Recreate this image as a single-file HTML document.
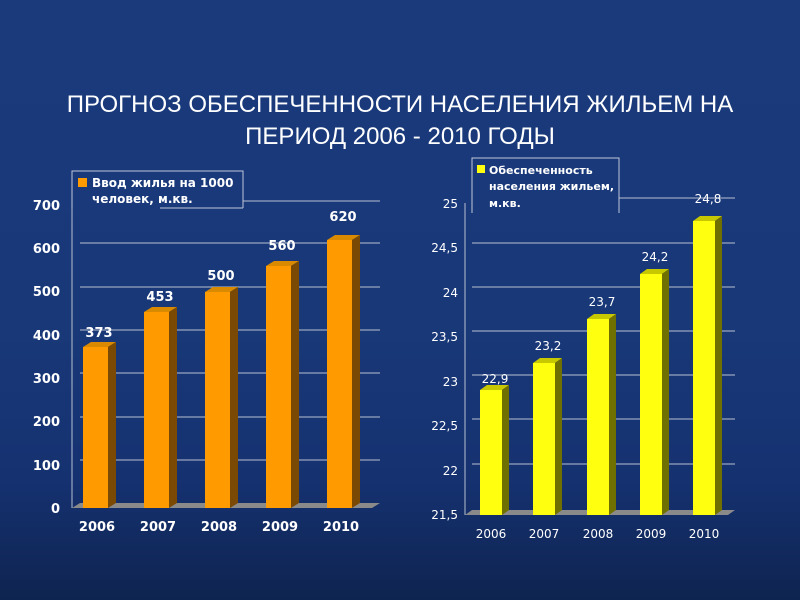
<!DOCTYPE html>
<html><head><meta charset="utf-8"><style>
body{margin:0;width:800px;height:600px;overflow:hidden;background:linear-gradient(180deg,#1a3a7c 0%,#193878 55%,#153170 80%,#0e2450 100%);font-family:"DejaVu Sans","Liberation Sans",sans-serif;}
</style></head><body>
<svg width="800" height="600" xmlns="http://www.w3.org/2000/svg" style="position:absolute;left:0;top:0">
<text x="400" y="112" fill="#fff" font-family="Liberation Sans, sans-serif" font-size="24" text-anchor="middle">ПРОГНОЗ ОБЕСПЕЧЕННОСТИ НАСЕЛЕНИЯ ЖИЛЬЕМ НА</text>
<text x="400" y="144" fill="#fff" font-family="Liberation Sans, sans-serif" font-size="24" text-anchor="middle">ПЕРИОД  2006 - 2010 ГОДЫ</text>

<!-- left chart -->
<g stroke="#b8c0d0" stroke-width="1" fill="none">
<line x1="72" y1="205" x2="72" y2="508"/>
<line x1="243" y1="201" x2="380" y2="201"/>
<line x1="80" y1="243" x2="380" y2="243"/>
<line x1="80" y1="287" x2="380" y2="287"/>
<line x1="80" y1="330" x2="380" y2="330"/>
<line x1="80" y1="373" x2="380" y2="373"/>
<line x1="80" y1="417" x2="380" y2="417"/>
<line x1="80" y1="460" x2="380" y2="460"/>
</g>
<polygon points="72,508 80,503 380,503 372,508" fill="#8a8a8a"/>
<g font-family="DejaVu Sans, sans-serif" font-weight="bold" font-size="13" fill="#fff" text-anchor="end">
<text x="60" y="210">700</text><text x="60" y="253">600</text><text x="60" y="296">500</text><text x="60" y="340">400</text><text x="60" y="383">300</text><text x="60" y="426">200</text><text x="60" y="470">100</text><text x="60" y="513">0</text>
</g>
<g>
<polygon points="83,347 91,342 116,342 108,347" fill="#d98a00"/><rect x="83" y="347" width="25" height="161" fill="#ff9a00"/><polygon points="108,347 116,342 116,503 108,508" fill="#7a4a05"/>
<polygon points="144,312 152,307 177,307 169,312" fill="#d98a00"/><rect x="144" y="312" width="25" height="196" fill="#ff9a00"/><polygon points="169,312 177,307 177,503 169,508" fill="#7a4a05"/>
<polygon points="205,292 213,287 238,287 230,292" fill="#d98a00"/><rect x="205" y="292" width="25" height="216" fill="#ff9a00"/><polygon points="230,292 238,287 238,503 230,508" fill="#7a4a05"/>
<polygon points="266,266 274,261 299,261 291,266" fill="#d98a00"/><rect x="266" y="266" width="25" height="242" fill="#ff9a00"/><polygon points="291,266 299,261 299,503 291,508" fill="#7a4a05"/>
<polygon points="327,240 335,235 360,235 352,240" fill="#d98a00"/><rect x="327" y="240" width="25" height="268" fill="#ff9a00"/><polygon points="352,240 360,235 360,503 352,508" fill="#7a4a05"/>
</g>
<g font-family="DejaVu Sans, sans-serif" font-weight="bold" font-size="13" fill="#fff" text-anchor="middle">
<text x="99" y="337">373</text><text x="160" y="301">453</text><text x="221" y="280">500</text><text x="282" y="250">560</text><text x="343" y="221">620</text>
<text x="97" y="531">2006</text><text x="158" y="531">2007</text><text x="219" y="531">2008</text><text x="280" y="531">2009</text><text x="341" y="531">2010</text>
</g>
<polyline points="72,208 72,171 243,171 243,208" fill="none" stroke="#c0c8d8" stroke-width="1"/>
<line x1="160" y1="208" x2="243" y2="208" stroke="#c0c8d8"/>
<rect x="78" y="178" width="9" height="9" fill="#ff9a00"/>
<text x="92" y="187" font-family="DejaVu Sans, sans-serif" font-weight="bold" font-size="12" fill="#fff">Ввод жилья на 1000</text>
<text x="92" y="203" font-family="DejaVu Sans, sans-serif" font-weight="bold" font-size="12" fill="#fff">человек, м.кв.</text>

<!-- right chart -->
<g stroke="#b8c0d0" stroke-width="1" fill="none">
<line x1="465" y1="203" x2="465" y2="515"/>
<line x1="619" y1="198" x2="735" y2="198"/>
<line x1="472" y1="243" x2="735" y2="243"/>
<line x1="472" y1="287" x2="735" y2="287"/>
<line x1="472" y1="331" x2="735" y2="331"/>
<line x1="472" y1="375" x2="735" y2="375"/>
<line x1="472" y1="419" x2="735" y2="419"/>
<line x1="472" y1="464" x2="735" y2="464"/>
</g>
<polygon points="465,515 472,510 735,510 728,515" fill="#8a8a8a"/>
<g font-family="DejaVu Sans, sans-serif" font-size="12" fill="#fff" text-anchor="end">
<text x="458" y="208">25</text><text x="458" y="252">24,5</text><text x="458" y="297">24</text><text x="458" y="341">23,5</text><text x="458" y="386">23</text><text x="458" y="430">22,5</text><text x="458" y="475">22</text><text x="458" y="519">21,5</text>
</g>
<g>
<polygon points="480,390 487,385 509,385 502,390" fill="#c8c800"/><rect x="480" y="390" width="22" height="125" fill="#ffff10"/><polygon points="502,390 509,385 509,510 502,515" fill="#707000"/>
<polygon points="533,363 540,358 562,358 555,363" fill="#c8c800"/><rect x="533" y="363" width="22" height="152" fill="#ffff10"/><polygon points="555,363 562,358 562,510 555,515" fill="#707000"/>
<polygon points="587,319 594,314 616,314 609,319" fill="#c8c800"/><rect x="587" y="319" width="22" height="196" fill="#ffff10"/><polygon points="609,319 616,314 616,510 609,515" fill="#707000"/>
<polygon points="640,274 647,269 669,269 662,274" fill="#c8c800"/><rect x="640" y="274" width="22" height="241" fill="#ffff10"/><polygon points="662,274 669,269 669,510 662,515" fill="#707000"/>
<polygon points="693,221 700,216 722,216 715,221" fill="#c8c800"/><rect x="693" y="221" width="22" height="294" fill="#ffff10"/><polygon points="715,221 722,216 722,510 715,515" fill="#707000"/>
</g>
<g font-family="DejaVu Sans, sans-serif" font-size="12" fill="#fff" text-anchor="middle">
<text x="495" y="383">22,9</text><text x="548" y="350">23,2</text><text x="602" y="306">23,7</text><text x="655" y="261">24,2</text><text x="708" y="203">24,8</text>
<text x="491" y="538">2006</text><text x="544" y="538">2007</text><text x="598" y="538">2008</text><text x="651" y="538">2009</text><text x="704" y="538">2010</text>
</g>
<polyline points="472,213 472,158 619,158 619,213" fill="none" stroke="#c0c8d8" stroke-width="1"/>
<rect x="477" y="165" width="8" height="8" fill="#ffff10"/>
<g font-family="DejaVu Sans, sans-serif" font-weight="bold" font-size="11" fill="#fff">
<text x="489" y="174">Обеспеченность</text><text x="489" y="190">населения жильем,</text><text x="489" y="207">м.кв.</text>
</g>
</svg>
</body></html>
